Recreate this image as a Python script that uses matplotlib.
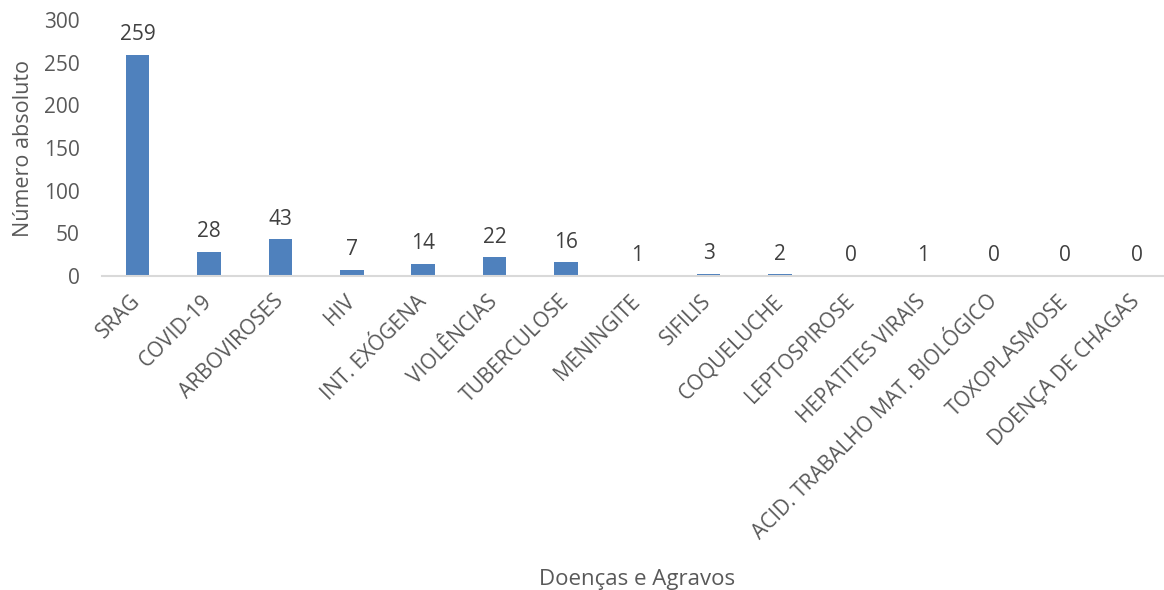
import matplotlib.pyplot as plt

categories = ['SRAG', 'COVID-19', 'ARBOVIROSES', 'HIV', 'INT. EXÓGENA', 'VIOLÊNCIAS',
              'TUBERCULOSE', 'MENINGITE', 'SIFILIS', 'COQUELUCHE', 'LEPTOSPIROSE',
              'HEPATITES VIRAIS', 'ACID. TRABALHO MAT. BIOLÓGICO', 'TOXOPLASMOSE',
              'DOENÇA DE CHAGAS']
values = [259, 28, 43, 7, 14, 22, 16, 1, 3, 2, 0, 1, 0, 0, 0]
y_ticks = [0, 50, 100, 150, 200, 250, 300]


def main():
    plt.rcParams['font.family'] = ['Open Sans', 'DejaVu Sans']
    fig = plt.figure(figsize=(11.64, 5.9), dpi=100)
    ax = fig.add_axes([0.0876, 0.532, 0.9196, 0.434])
    x = range(len(categories))
    bars = ax.bar(x, values, width=0.33, color='#4F81BD')
    for b, v in zip(bars, values):
        ax.annotate(str(v), (b.get_x() + b.get_width() / 2, v), xytext=(0, 7),
                    textcoords='offset points', ha='center', va='bottom',
                    fontsize=15, color='#404040')
    ax.set_xlim(-0.5, len(categories) - 0.5)
    ax.set_ylim(0, 300)
    ax.set_yticks(y_ticks)
    ax.set_xticks(list(x))
    ax.set_xticklabels(categories, rotation=45, ha='right', va='center',
                       rotation_mode='anchor', fontsize=15, color='#595959')
    ax.tick_params(axis='y', labelsize=15, labelcolor='#595959', length=0, pad=16)
    ax.tick_params(axis='x', length=0, pad=16)
    for s in ['top', 'right', 'left']:
        ax.spines[s].set_visible(False)
    ax.spines['bottom'].set_color('#D9D9D9')
    ax.spines['bottom'].set_linewidth(1.5)
    ax.set_ylabel('Número absoluto', fontsize=15.5, color='#595959', labelpad=7)
    fig.text(0.547, 0.0, 'Doenças e Agravos', ha='center', va='bottom',
             fontsize=16, color='#595959')
    fig.savefig('out.png', dpi=100)


if __name__ == '__main__':
    main()
